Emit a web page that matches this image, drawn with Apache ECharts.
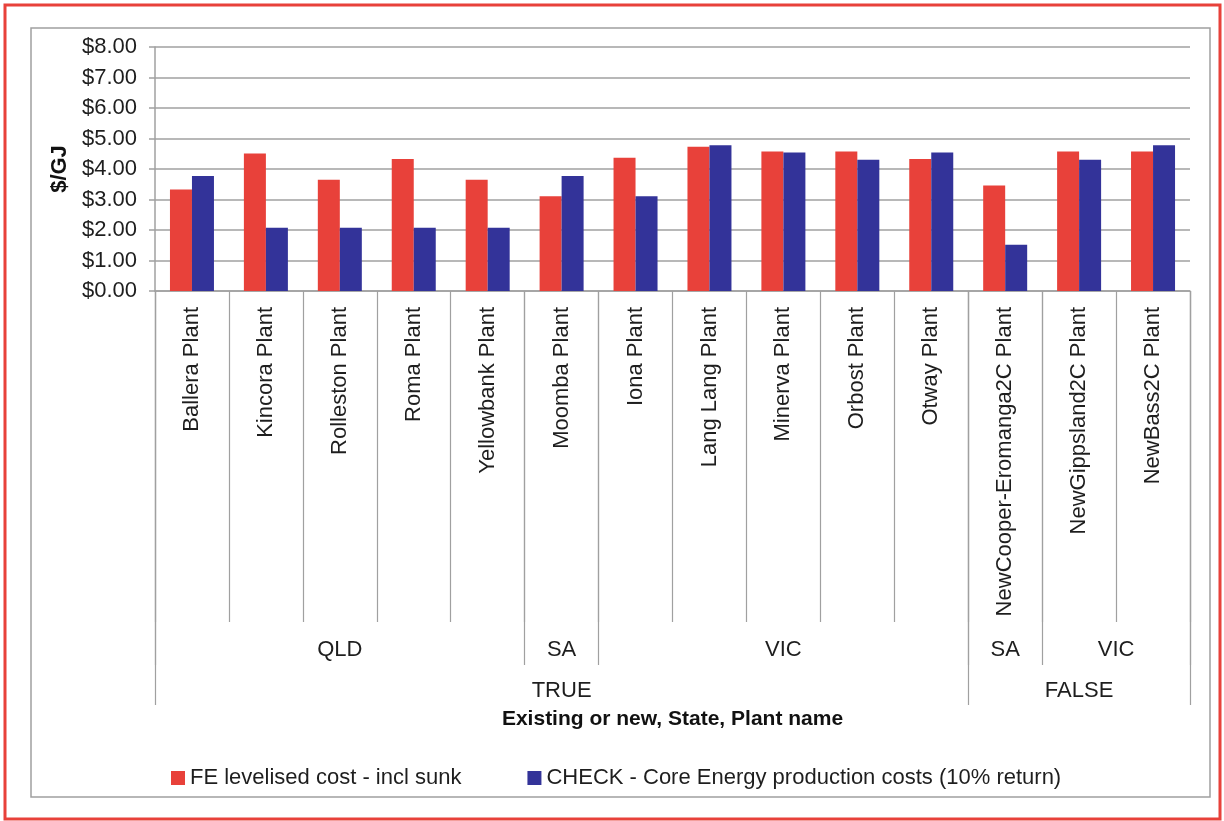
<!DOCTYPE html>
<html>
<head>
<meta charset="utf-8">
<script src="https://cdn.jsdelivr.net/npm/echarts@6/dist/echarts.min.js"></script>
<style>
  html, body { margin: 0; padding: 0; background: #fff; }
  #chart { width: 1224px; height: 821px; }
</style>
</head>
<body>
<div id="chart"></div>
<script>
// plant names (lowest level of the category axis)
const plants = ['Ballera Plant', 'Kincora Plant', 'Rolleston Plant', 'Roma Plant', 'Yellowbank Plant',
  'Moomba Plant', 'Iona Plant', 'Lang Lang Plant', 'Minerva Plant', 'Orbost Plant', 'Otway Plant',
  'NewCooper-Eromanga2C Plant', 'NewGippsland2C Plant', 'NewBass2C Plant'];
// state level groups
const stateNames = ['QLD', 'SA', 'VIC', 'SA', 'VIC'];
const stateSpans = [5, 1, 5, 1, 2];
// existing or new groups
const existNames = ['TRUE', 'FALSE'];
const existSpans = [11, 3];
// series values ($/GJ)
const feCost = [3.33, 4.51, 3.65, 4.33, 3.65, 3.11, 4.37, 4.73, 4.57, 4.57, 4.33, 3.46, 4.57, 4.57];
const checkCost = [3.77, 2.07, 2.07, 2.07, 2.07, 3.77, 3.11, 4.78, 4.54, 4.30, 4.54, 1.52, 4.30, 4.78];
const yTicks = [0, 8, 1]; // min, max, interval

const font = 'Liberation Sans, Arial, sans-serif';
const txt = '#1e1e1e';
const lineGrey = '#a0a0a0';

// helper: a half-step axis (2 * n + 1 points) with labels at group centres and ticks at group edges
function groupAxis(names, spans) {
  const n = plants.length * 2 + 1;
  const labels = new Array(n).fill('');
  const ticks = new Set([0]);
  let pos = 0;
  names.forEach((nm, i) => {
    labels[pos + spans[i]] = nm;
    pos += spans[i] * 2;
    ticks.add(pos);
  });
  return { data: labels.map((_, i) => String(i)), labels: labels, ticks: ticks };
}
const stateAxis = groupAxis(stateNames, stateSpans);
const existAxis = groupAxis(existNames, existSpans);

function groupXAxis(ax, tickLen, labelMargin) {
  return {
    type: 'category',
    position: 'bottom',
    boundaryGap: false,
    data: ax.data,
    axisLine: { show: false },
    axisTick: {
      show: true, length: tickLen,
      interval: (i) => ax.ticks.has(i),
      lineStyle: { color: lineGrey, width: 1.2 }
    },
    axisLabel: {
      margin: labelMargin,
      interval: (i) => ax.labels[i] !== '',
      formatter: (v) => ax.labels[+v],
      color: txt, fontSize: 22, fontFamily: font
    },
    splitLine: { show: false }
  };
}

const chart = echarts.init(document.getElementById('chart'));
const xTop = groupXAxis(existAxis, 414, 389);
xTop.name = 'Existing or new, State, Plant name';
xTop.nameLocation = 'middle';
xTop.nameGap = 418;
xTop.nameTextStyle = { color: '#111', fontSize: 21, fontWeight: 'bold', fontFamily: font };

chart.setOption({
  animation: false,
  backgroundColor: '#fff',
  textStyle: { fontFamily: font },
  graphic: [
    { type: 'rect', shape: { x: 5, y: 5, width: 1215, height: 814 },
      style: { fill: 'none', stroke: '#e8413a', lineWidth: 3 } },
    { type: 'rect', shape: { x: 31, y: 28, width: 1179, height: 769 },
      style: { fill: 'none', stroke: lineGrey, lineWidth: 1.5 } }
  ],
  grid: { left: 155, right: 34, top: 47, bottom: 530 },
  legend: {
    left: 166, top: 762,
    itemWidth: 14, itemHeight: 14, itemGap: 66,
    icon: 'rect',
    textStyle: { color: txt, fontSize: 22, fontFamily: font },
    data: ['FE levelised cost - incl sunk', 'CHECK - Core Energy production costs (10% return)']
  },
  xAxis: [
    {
      type: 'category',
      position: 'bottom',
      data: plants,
      boundaryGap: true,
      axisLine: { show: true, lineStyle: { color: lineGrey, width: 1.5 } },
      axisTick: { show: true, length: 331, interval: 0, lineStyle: { color: lineGrey, width: 1.2 } },
      axisLabel: { rotate: 90, interval: 0, margin: 16, color: txt, fontSize: 22, fontFamily: font }
    },
    groupXAxis(stateAxis, 374, 348),
    xTop
  ],
  yAxis: {
    type: 'value',
    min: yTicks[0], max: yTicks[1], interval: yTicks[2],
    name: '$/GJ',
    nameLocation: 'middle',
    nameGap: 77,
    nameRotate: 90,
    nameTextStyle: { color: '#111', fontSize: 22, fontWeight: 'bold', fontFamily: font },
    axisLine: { show: true, lineStyle: { color: lineGrey, width: 1.5 } },
    axisTick: { show: true, length: 6, lineStyle: { color: lineGrey, width: 1.5 } },
    axisLabel: { margin: 18, color: txt, fontSize: 22, fontFamily: font,
      formatter: (v) => '$' + v.toFixed(2) },
    splitLine: { lineStyle: { color: lineGrey, width: 1.5 } }
  },
  series: [
    {
      name: 'FE levelised cost - incl sunk',
      type: 'bar',
      data: feCost,
      barWidth: 22,
      barGap: '0%',
      itemStyle: { color: '#e8413a' }
    },
    {
      name: 'CHECK - Core Energy production costs (10% return)',
      type: 'bar',
      data: checkCost,
      barWidth: 22,
      itemStyle: { color: '#333399' }
    }
  ]
});
</script>
</body>
</html>
